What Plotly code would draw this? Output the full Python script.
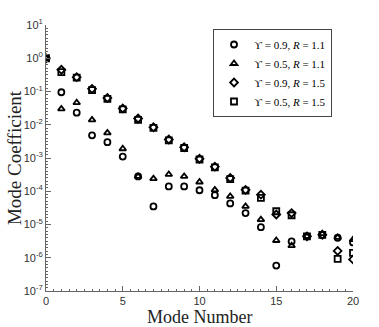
import plotly.graph_objects as go

mode_number = list(range(21))

# mode coefficients, one list per case
coef_u09_r11 = [1.0, 0.095, 0.023, 0.0048, 0.0030, 0.0011, 2.8e-4, 3.5e-5, 1.4e-4, 1.4e-4,
                1.07e-4, 7.6e-5, 4.3e-5, 2.2e-5, 8.3e-6, 5.8e-7, 3.1e-6, 4.4e-6, 4.9e-6, 4.0e-6, 2.9e-6]
coef_u05_r11 = [1.0, 0.030, 0.046, 0.014, 0.0057, 0.0019, 2.8e-4, 2.4e-4, 3.2e-4, 2.8e-4,
                1.9e-4, 1.1e-4, 7.0e-5, 3.5e-5, 1.4e-5, 3.3e-6, 2.3e-6, 4.4e-6, 5.3e-6, 4.1e-6, 3.5e-6]
coef_u09_r15 = [1.0, 0.45, 0.27, 0.12, 0.064, 0.031, 0.0154, 0.0084, 0.0036, 0.0021,
                9.5e-4, 5.5e-4, 2.5e-4, 1.1e-4, 7.9e-5, 2.0e-5, 2.2e-5, 4.4e-6, 4.9e-6, 1.6e-6, 8.9e-7]
coef_u05_r15 = [1.0, 0.38, 0.26, 0.11, 0.060, 0.029, 0.014, 0.0080, 0.0034, 0.0020,
                9.0e-4, 5.2e-4, 2.3e-4, 1.05e-4, 6.3e-5, 2.5e-5, 1.9e-5, 4.4e-6, 4.9e-6, 9.3e-7, 1.4e-6]

series_names = [
    "ϒ = 0.9, <i>R</i> = 1.1",
    "ϒ = 0.5, <i>R</i> = 1.1",
    "ϒ = 0.9, <i>R</i> = 1.5",
    "ϒ = 0.5, <i>R</i> = 1.5",
]
series_values = [coef_u09_r11, coef_u05_r11, coef_u09_r15, coef_u05_r15]
symbols = ["circle-open", "triangle-up-open", "diamond-open", "square-open"]

y_exponents = list(range(-7, 2))
y_ticktext = [f"10<sup>{e}</sup>" for e in y_exponents]

SERIF = "Liberation Serif, Times New Roman, serif"
SANS = "Liberation Sans, Arial, sans-serif"

fig = go.Figure()

for name, values, symbol in zip(series_names, series_values, symbols):
    fig.add_trace(
        go.Scatter(
            x=mode_number,
            y=values,
            name=name,
            mode="markers",
            marker=dict(
                symbol=symbol,
                size=6,
                color="black",
                line=dict(color="black", width=1.8),
            ),
        )
    )

fig.update_layout(
    width=379,
    height=327,
    margin=dict(l=46, r=26, t=25, b=36),
    paper_bgcolor="white",
    plot_bgcolor="white",
    showlegend=True,
    legend=dict(
        x=0.544,
        y=0.985,
        xanchor="left",
        yanchor="top",
        bordercolor="#444",
        borderwidth=1,
        bgcolor="white",
        font=dict(family=SERIF, size=11, color="black"),
        itemwidth=30,
        tracegroupgap=0,
    ),
    annotations=[
        dict(
            text="Mode Number",
            xref="paper",
            yref="paper",
            x=0.5,
            y=-0.097,
            xanchor="center",
            yanchor="middle",
            showarrow=False,
            font=dict(family=SERIF, size=18, color="#222"),
        ),
        dict(
            text="Mode Coefficient",
            xref="paper",
            yref="paper",
            x=-0.104,
            y=0.5,
            xanchor="center",
            yanchor="middle",
            textangle=-90,
            showarrow=False,
            font=dict(family=SERIF, size=19, color="#222"),
        ),
    ],
)

fig.update_xaxes(
    range=[0, 20],
    automargin=False,
    showline=True,
    linecolor="#666",
    linewidth=1,
    showgrid=False,
    zeroline=False,
    ticks="inside",
    ticklen=5,
    tickcolor="#666",
    tickvals=[0, 5, 10, 15, 20],
    tickfont=dict(family=SANS, size=11, color="#333"),
    minor=dict(dtick=0.5, ticks="inside", ticklen=2, tickcolor="#666", showgrid=False),
)

fig.update_yaxes(
    type="log",
    range=[-7, 1],
    automargin=False,
    showline=True,
    linecolor="#666",
    linewidth=1,
    showgrid=False,
    zeroline=False,
    ticks="inside",
    ticklen=5,
    tickcolor="#666",
    tickvals=[10.0 ** e for e in y_exponents],
    ticktext=y_ticktext,
    tickfont=dict(family=SANS, size=11, color="#333"),
    minor=dict(
        tickvals=[10.0 ** (e + i / 10) for e in range(-7, 1) for i in range(1, 10)],
        ticks="inside",
        ticklen=2,
        tickcolor="#666",
        showgrid=False,
    ),
)

# drop the browser's default body margin so the figure sits at the page corner
fig.write_html(
    "out.html",
    config={"displayModeBar": False},
    post_script="document.body.style.margin = '0';",
)
